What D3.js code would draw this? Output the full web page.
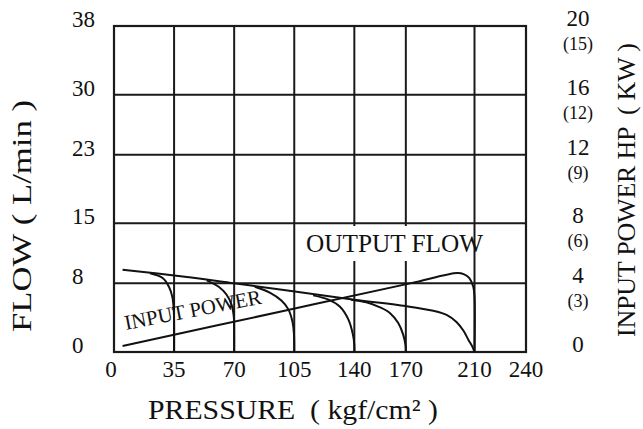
<!DOCTYPE html>
<html>
<head>
<meta charset="utf-8">
<script src="https://cdn.jsdelivr.net/npm/d3@7/dist/d3.min.js"></script>
<style>
  html, body { margin: 0; padding: 0; background: #fff; }
  svg { display: block; }
  text { font-family: "Liberation Serif", "Times New Roman", serif; fill: #111; }
</style>
</head>
<body>
<svg id="chart" width="643" height="429"></svg>
<script>
// ---- data ----
const pressureTicks = [0, 35, 70, 105, 140, 170, 210, 240];
const flowTicks = [0, 8, 15, 23, 30, 38];
const hpTicks = [0, 4, 8, 12, 16, 20];
const kwLabels = ["", "(3)", "(6)", "(9)", "(12)", "(15)"];

// main output-flow line (pressure kgf/cm², flow L/min), ending in the 210 relief curve
const outputFlow = [[5, 9.6], [40, 8.8], [70, 8.0], [100, 7.2], [140, 6.1], [170, 5.35], [186, 4.8],
                    [194, 4.3], [199.5, 3.5], [203.5, 2.5], [206.5, 1.4], [208.8, 0.6], [210, 0]];
// relief curves at each pressure setting
const relief35  = [[21, 9.17], [28.5, 8.6], [32, 7.6], [34, 6.4], [34.8, 4.9], [35, 3.5], [35, 0]];
const relief70  = [[54, 8.35], [61, 7.6], [65.5, 6.7], [68.5, 5.5], [69.8, 4.1], [70, 2.5], [70, 0]];
const relief105 = [[82, 7.6], [91, 6.9], [97.5, 6.0], [101.5, 5.0], [104, 3.5], [104.8, 2.2], [105, 0]];
const relief140 = [[116, 6.6], [125, 6.1], [131.5, 5.3], [136.5, 3.8], [139.2, 2.0], [140, 0.8], [140, 0]];
const relief170 = [[138, 6.1], [147, 5.8], [155, 5.2], [161, 4.5], [165.5, 3.4], [168.5, 2.0], [169.8, 0.8], [170, 0]];
const reliefCurves = [relief35, relief70, relief105, relief140, relief170];
// input power (HP, right axis)
const inputPower = [[5, 0.35], [100, 2.42], [172.5, 4.0], [200, 4.69], [204, 4.6], [207, 4.35], [209.3, 3.8], [210, 3.2], [210, 0]];

// ---- layout ----
const svg = d3.select("#chart");
const pL = 114, pR = 526, pT = 26, pB = 352;

const x = d3.scaleLinear().domain([0, 240]).range([pL, pR]);
const y = d3.scaleLinear().domain([0, 38]).range([pB, pT]);
// right axis: its ticks sit on the flow gridlines
const yHP = d3.scaleLinear().domain(hpTicks).range(flowTicks.map(y));

// grid
const grid = svg.append("g").attr("stroke", "#1a1a1a").attr("stroke-width", 2);
grid.selectAll("line.h").data(flowTicks.slice(1, -1)).join("line")
  .attr("x1", pL).attr("x2", pR)
  .attr("y1", d => y(d)).attr("y2", d => y(d));
grid.selectAll("line.v").data(pressureTicks.slice(1, -1)).join("line")
  .attr("y1", pT).attr("y2", pB)
  .attr("x1", d => x(d)).attr("x2", d => x(d));
svg.append("rect").attr("x", pL).attr("y", pT)
  .attr("width", pR - pL).attr("height", pB - pT)
  .attr("fill", "none").attr("stroke", "#1a1a1a").attr("stroke-width", 2.2);

// white patch behind OUTPUT FLOW label
svg.append("rect").attr("x", 300).attr("y", 226).attr("width", 162).attr("height", 35).attr("fill", "#fff");
svg.append("text").attr("x", 306).attr("y", 252).attr("font-size", 25)
  .attr("textLength", 177).attr("lengthAdjust", "spacingAndGlyphs").text("OUTPUT FLOW");

// curves
const line = d3.line().x(d => x(d[0])).y(d => y(d[1])).curve(d3.curveCatmullRom.alpha(0.5));
const lineHP = d3.line().x(d => x(d[0])).y(d => yHP(d[1])).curve(d3.curveCatmullRom.alpha(0.5));
const curves = svg.append("g").attr("fill", "none").attr("stroke", "#111").attr("stroke-width", 2);
curves.append("path").attr("d", line(outputFlow));
reliefCurves.forEach(c => curves.append("path").attr("d", line(c)));
curves.append("path").attr("d", lineHP(inputPower));

// INPUT POWER label along the power line
svg.append("text").attr("font-size", 21)
  .attr("transform", "translate(126,330) rotate(-11)")
  .attr("textLength", 139).attr("lengthAdjust", "spacingAndGlyphs")
  .text("INPUT POWER");

// x tick labels
svg.append("g").selectAll("text").data(pressureTicks).join("text")
  .attr("x", d => x(d) - (d === 0 ? 3 : 0)).attr("y", 377)
  .attr("text-anchor", "middle").attr("font-size", 23)
  .text(d => d);

// left tick labels
svg.append("g").selectAll("text").data(flowTicks).join("text")
  .attr("x", 72).attr("y", d => y(d) + 1)
  .attr("font-size", 23)
  .text(d => d);

// right tick labels
const rg = svg.append("g");
rg.selectAll("text.hp").data(hpTicks).join("text")
  .attr("x", 578).attr("y", d => yHP(d))
  .attr("text-anchor", "middle").attr("font-size", 23)
  .text(d => d);
rg.selectAll("text.kw").data(hpTicks.map((d, i) => ({v: d, l: kwLabels[i]})).filter(d => d.l)).join("text")
  .attr("x", 578).attr("y", d => yHP(d.v) + 24)
  .attr("text-anchor", "middle").attr("font-size", 18)
  .text(d => d.l);

// axis titles
svg.append("text").attr("x", 148).attr("y", 419)
  .attr("font-size", 28).attr("textLength", 290).attr("lengthAdjust", "spacingAndGlyphs")
  .text("PRESSURE\u00A0\u00A0( kgf/cm\u00B2 )");
svg.append("text").attr("transform", "translate(31,216) rotate(-90)")
  .attr("text-anchor", "middle").attr("font-size", 28)
  .attr("textLength", 232).attr("lengthAdjust", "spacingAndGlyphs")
  .text("FLOW\u00A0(\u00A0L/min\u00A0)");
svg.append("text").attr("transform", "translate(635,190) rotate(-90)")
  .attr("text-anchor", "middle").attr("font-size", 26)
  .attr("textLength", 294).attr("lengthAdjust", "spacing")
  .text("INPUT POWER HP \u00A0( KW )");
</script>
</body>
</html>
